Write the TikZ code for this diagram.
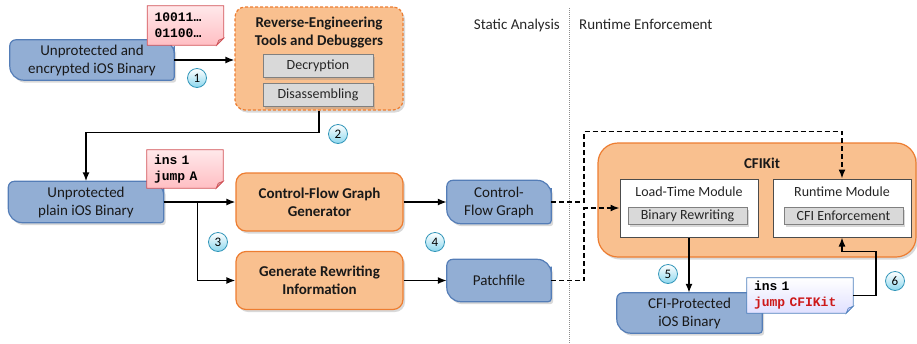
\documentclass[tikz,border=0pt]{standalone}
\usepackage{fontspec}
\setmainfont{Carlito}
\setmonofont{Liberation Mono}
\usepackage{tikz}
\usetikzlibrary{arrows.meta,positioning,shadows,backgrounds}

\definecolor{binfill}{RGB}{146,174,212}
\definecolor{binline}{RGB}{84,125,183}
\definecolor{orfill}{RGB}{249,192,143}
\definecolor{orline}{RGB}{237,125,49}
\definecolor{grayfill}{RGB}{217,217,217}
\definecolor{grayline}{RGB}{128,128,128}
\definecolor{notered}{RGB}{210,80,85}
\definecolor{notepink}{RGB}{255,190,195}
\definecolor{noteblue}{RGB}{79,129,189}
\definecolor{numfill}{RGB}{140,215,238}
\definecolor{numline}{RGB}{50,150,185}
\definecolor{codered}{RGB}{205,25,25}

% blue binary shape: small/large corners alternate
\newcommand{\binshape}[1]{%
  \draw[bin shape] (#1.west) [rounded corners=6pt] |- (#1.north)
    [rounded corners=14pt] -| (#1.east)
    [rounded corners=3pt] |- (#1.south)
    [rounded corners=14pt] -| (#1.west);}
% note with folded corner
\newcommand{\noteshape}[3]{%
  \draw[#2] (#1.north west) -- (#1.north east) -- ([yshift=7pt]#1.south east)
    -- ([xshift=-7pt]#1.south east) -- (#1.south west) -- cycle;
  \draw[#3] ([yshift=7pt]#1.south east) -- ([xshift=-5pt,yshift=5pt]#1.south east)
    -- ([xshift=-7pt]#1.south east) -- cycle;}

\begin{document}
\begin{tikzpicture}
  [x=1pt, y=-1pt,
  soft shadow/.style={drop shadow={shadow xshift=2pt, shadow yshift=-2.5pt, opacity=.3}},
  bin/.style={minimum height=40pt, align=center, inner sep=0pt, font=\fontsize{15}{18}\selectfont, text=black!90},
  bin shape/.style={fill=binfill, draw=binline, line width=1.2pt, soft shadow},
  tool/.style={draw=orline, fill=orfill, line width=1.2pt, rounded corners=10pt, soft shadow},
  title/.style={align=center, inner sep=0pt, font=\bfseries\fontsize{15}{18}\selectfont, text=black!90},
  tool box/.style={tool, align=center, minimum width=167pt, minimum height=58pt, inner sep=0pt, font=\bfseries\fontsize{15}{18}\selectfont, text=black!90},
  step box/.style={draw=grayline, fill=grayfill, line width=.8pt, inner sep=0pt, font=\fontsize{14}{16}\selectfont, text=black!85, soft shadow},
  module/.style={draw=black!70, fill=white, line width=1pt, minimum width=138pt, minimum height=58pt},
  modtitle/.style={inner sep=0pt, font=\fontsize{14}{16}\selectfont, text=black!85},
  num/.style={circle, draw=numline, line width=.8pt, top color=white, bottom color=numfill, minimum size=19pt, inner sep=0pt, font=\fontsize{13}{13}\selectfont},
  note/.style={align=left, inner ysep=0pt, inner xsep=7pt, font=\ttfamily\bfseries\fontsize{13}{16}\selectfont},
  red note/.style={draw=notered, line width=.8pt, top color=notepink!35, bottom color=notepink},
  red fold/.style={draw=notered, line width=.6pt, fill=notepink!80!black!90},
  blue note/.style={draw=noteblue, line width=.8pt, top color=white, bottom color=blue!12},
  blue fold/.style={draw=noteblue, line width=.6pt, fill=blue!20},
  flow/.style={-{Latex[length=9pt,width=7pt]}, line width=1.5pt},
  dashflow/.style={flow, dash pattern=on 5pt off 3pt},
  divider/.style={draw=black!45, line width=.9pt, dash pattern=on 1pt off 1pt}]

  \useasboundingbox (0,0) rectangle (917,343);

  % phases
  \coordinate (divtop) at (569,8);
  \coordinate (divbot) at (569,343);
  \draw[divider] (divtop) -- (divbot);
  \node[anchor=base east, inner sep=0pt, font=\fontsize{15}{18}\selectfont, text=black!85] (static) at (560,29) {Static Analysis};
  \node[anchor=base west, inner sep=0pt, font=\fontsize{15}{18}\selectfont, text=black!85] (runtime) at (579,29) {Runtime Enforcement};

  % binaries and notes
  \node[bin, minimum width=164pt] (encbin) at (92,60) {Unprotected and\\encrypted iOS Binary};
  \node[bin, minimum width=155pt, minimum height=41pt] (plainbin) at (86,202) {Unprotected\\plain iOS Binary};
  \node[bin, minimum width=104pt, minimum height=43pt] (cfgraph) at (499,202) {Control-\\Flow Graph};
  \node[bin, minimum width=104pt, minimum height=42pt] (patch) at (499,280.5) {Patchfile};
  \node[bin, minimum width=145pt] (protbin) at (689.5,313) {CFI-Protected\\iOS Binary};
  \node[note, text width=62pt, minimum height=39pt] (bitsnote) at (185.5,25.5) {10011…\\01100…};
  \node[note, text width=62pt, minimum height=38pt] (asmnote) at (185,169) {ins 1\\jump A};
  \node[note, text width=92pt, minimum height=35pt] (cfinote) at (800,295.5) {ins 1\\\textcolor{codered}{jump CFIKit}};
  \begin{scope}[on background layer]
    \binshape{encbin}
    \binshape{plainbin}
    \binshape{cfgraph}
    \binshape{patch}
    \binshape{protbin}
    \noteshape{bitsnote}{red note}{red fold}
    \noteshape{asmnote}{red note}{red fold}
    \noteshape{cfinote}{blue note}{blue fold}
  \end{scope}

  % reverse engineering
  \node[tool, dash pattern=on 3pt off 2pt, minimum width=168pt, minimum height=103pt] (retools) at (319,58.5) {};
  \node[title] (retitle) at (319,33) {Reverse-Engineering\\Tools and Debuggers};
  \node[step box, minimum width=110pt, minimum height=23pt] (decrypt) at (318,65.5) {Decryption};
  \node[step box, minimum width=110pt, minimum height=23pt] (disasm) at (318,95) {Disassembling};

  % static analysis
  \node[tool box] (cfggen) at (319.5,202) {Control-Flow Graph\\Generator};
  \node[tool box] (rewrite) at (319.5,280.5) {Generate Rewriting\\Information};

  % CFIKit
  \node[tool, rounded corners=20pt, minimum width=318pt, minimum height=114pt] (cfikit) at (757,200) {};
  \node[title] (cfititle) at (762,163) {CFIKit};
  \node[module] (loadmod) at (689,208) {};
  \node[module] (runmod) at (842,208) {};
  \node[modtitle] (loadtitle) at (689,192) {Load-Time Module};
  \node[modtitle] (runtitle) at (842,192) {Runtime Module};
  \node[step box, minimum width=119pt, minimum height=17pt] (binrw) at (687.5,216) {Binary Rewriting};
  \node[step box, minimum width=119pt, minimum height=17pt] (cfienf) at (843.5,216) {CFI Enforcement};

  % steps
  \node[num] (n1) at (197,78) {1};
  \node[num] (n2) at (338,134) {2};
  \node[num] (n3) at (218,242) {3};
  \node[num] (n4) at (435,242) {4};
  \node[num] (n5) at (668,274) {5};
  \node[num] (n6) at (895,281) {6};

  % connectors
  \draw[flow] (encbin.east) -- (encbin.east -| retools.west);
  \draw[flow] (retools.south) -- ++(0,22) -| (plainbin.north);
  \draw[flow] (plainbin.east) -- (cfggen.west);
  \draw[flow] (plainbin.east) -- ++(34,0) |- (rewrite.west);
  \draw[flow] (cfggen) -- (cfgraph);
  \draw[flow] (rewrite) -- (patch);
  \draw[dashflow] (cfgraph.east) -- ++(33,0) |- ([yshift=47pt]runmod.north) -- (runmod.north);
  \draw[dashflow] (patch.east) -- ++(33,0) |- (loadmod.west);
  \draw[flow] (loadmod.south) -- (loadmod.south |- protbin.north);
  \draw[flow] (cfinote.east) -- ++(23,0) |- ([yshift=-14pt]runmod.south) -- (runmod.south);
\end{tikzpicture}
\end{document}
